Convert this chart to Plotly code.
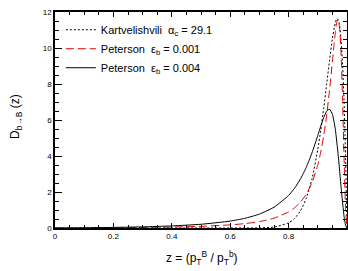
import plotly.graph_objects as go

# Kartvelishvili alpha_c = 29.1
z_kart = [0.0, 0.6, 0.65, 0.7, 0.75, 0.8, 0.82, 0.84, 0.86, 0.88, 0.9, 0.91, 0.92, 0.93, 0.94,
          0.95, 0.96, 0.965, 0.97, 0.975, 0.98, 0.985, 0.99, 0.995, 1.0]
d_kart = [0.0, 0.0001, 0.0012, 0.0088, 0.054, 0.283, 0.523, 0.937, 1.628, 2.723, 4.362, 5.416,
          6.617, 7.931, 9.279, 10.521, 11.415, 11.618, 11.575, 11.202, 10.40, 9.046, 6.987, 4.045, 0.0]

# Peterson eps_b = 0.001
z_pet1 = [0.0, 0.05, 0.1, 0.2, 0.3, 0.4, 0.5, 0.6, 0.65, 0.7, 0.75, 0.8, 0.82, 0.84, 0.86, 0.88,
          0.9, 0.91, 0.92, 0.93, 0.94, 0.95, 0.955, 0.96, 0.965, 0.97, 0.975, 0.98, 0.985, 0.99, 0.995, 1.0]
d_pet1 = [0.0, 0.0026, 0.0057, 0.0145, 0.0284, 0.0514, 0.0924, 0.173, 0.244, 0.355, 0.544, 0.892,
          1.117, 1.427, 1.868, 2.52, 3.51, 4.21, 5.10, 6.22, 7.62, 9.26, 10.1, 10.87, 11.44, 11.59,
          11.04, 9.55, 7.02, 3.87, 1.11, 0.0]

# Peterson eps_b = 0.004
z_pet4 = [0.0, 0.05, 0.1, 0.2, 0.3, 0.4, 0.5, 0.6, 0.65, 0.7, 0.75, 0.8, 0.82, 0.84, 0.86, 0.88,
          0.9, 0.91, 0.92, 0.93, 0.94, 0.95, 0.96, 0.97, 0.98, 0.99, 0.995, 1.0]
d_pet4 = [0.0, 0.0058, 0.013, 0.033, 0.064, 0.116, 0.208, 0.384, 0.537, 0.772, 1.154, 1.81,
          2.20, 2.71, 3.35, 4.17, 5.14, 5.65, 6.12, 6.48, 6.60, 6.32, 5.48, 4.03, 2.22, 0.634, 0.164, 0.0]

x_tickvals = [0, 0.2, 0.4, 0.6, 0.8, 1]
x_ticktext = ["0", "0.2", "0.4", "0.6", "0.8", "1"]

FONT = "Liberation Sans, Arial, sans-serif"

fig = go.Figure()
fig.add_trace(go.Scatter(x=z_kart, y=d_kart, mode="lines", name="Kartvelishvili  α<sub>c</sub> = 29.1",
                         line=dict(color="black", width=1, dash="2px,2px", shape="spline", smoothing=0.5)))
fig.add_trace(go.Scatter(x=z_pet1, y=d_pet1, mode="lines", name="Peterson  ε<sub>b</sub> = 0.001",
                         line=dict(color="#e00000", width=1, dash="8px,4px", shape="spline", smoothing=0.5)))
fig.add_trace(go.Scatter(x=z_pet4, y=d_pet4, mode="lines", name="Peterson  ε<sub>b</sub> = 0.004",
                         line=dict(color="black", width=1, shape="spline", smoothing=0.5)))

axis_common = dict(showgrid=False, zeroline=False, showline=True, linecolor="black", linewidth=1.5,
                   mirror="allticks", ticks="inside", tickcolor="black", tickwidth=1, automargin=False,
                   tickfont=dict(family=FONT, size=8, color="black"))

fig.update_layout(
    width=348, height=271,
    margin=dict(l=55, r=1, t=12, b=43),
    paper_bgcolor="white", plot_bgcolor="white",
    showlegend=True,
    legend=dict(x=0.02, y=0.985, xanchor="left", yanchor="top", bgcolor="rgba(0,0,0,0)",
                font=dict(family=FONT, size=11, color="black"), tracegroupgap=0),
    xaxis=dict(range=[0, 1], tickvals=x_tickvals, ticktext=x_ticktext, ticklen=5,
               minor=dict(ticks="inside", ticklen=3, dtick=0.05, tickcolor="black"),
               **axis_common),
    yaxis=dict(range=[0, 12], dtick=2, ticklen=7,
               minor=dict(ticks="inside", ticklen=4, dtick=0.5, tickcolor="black"),
               **axis_common),
    annotations=[
        dict(text="z = (p<sub>T</sub><sup>B</sup> / p<sub>T</sub><sup>b</sup>)", xref="paper", yref="paper",
             x=(202 - 55) / 292, y=-(258 - 228) / 216, showarrow=False,
             font=dict(family=FONT, size=12, color="black"), xanchor="center", yanchor="middle"),
        dict(text="D<sub>b→B</sub> (z)", xref="paper", yref="paper",
             x=-(55 - 16) / 292, y=(228 - 117) / 216, showarrow=False, textangle=-90,
             font=dict(family=FONT, size=12, color="black"), xanchor="center", yanchor="middle"),
    ],
)

fig.write_html("out.html", config={"displayModeBar": False},
               post_script="document.body.style.margin='0';")
